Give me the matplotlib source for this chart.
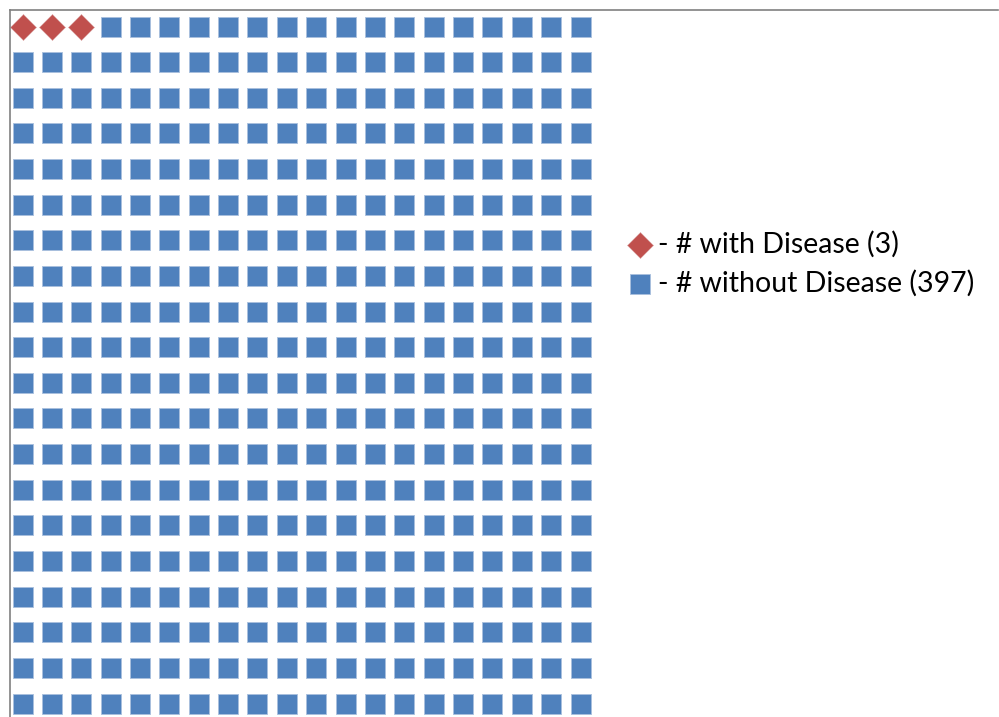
import matplotlib.pyplot as plt
from matplotlib.lines import Line2D
import numpy as np

# waffle counts
n_with = 3
n_without = 397
n_cols = 20
n_rows = 20
labels = ['- # with Disease (3)', '- # without Disease (397)']
colors = ['#C0504D', '#4F81BD']

idx = np.arange(n_with + n_without)
col = idx % n_cols
row = idx // n_cols

fig = plt.figure(figsize=(9.99, 7.17), dpi=100)
ax = fig.add_axes([0, 0, 1, 1])
ax.set_axis_off()

# place grid: col 0 at ~22.5px, col 19 at ~580.5px; row 0 at ~26.5px, row 19 at ~703.5px
dx = (580.5 - 22.5) / (n_cols - 1)
dy = (703.5 - 26.5) / (n_rows - 1)
x0 = -22.5 / dx
y0 = -26.5 / dy
ax.set_xlim(x0, x0 + 999 / dx)
ax.set_ylim(y0 + 717 / dy, y0)

w = idx < n_with
h1 = ax.scatter(col[w], row[w], marker='D', s=175, color=colors[0],
                edgecolors='#D9A5A4', linewidths=0.4, zorder=3)
h2 = ax.scatter(col[~w], row[~w], marker='s', s=190, color=colors[1],
                edgecolors='#A9C0DE', linewidths=0.6, zorder=3)

leg = fig.legend([h1, h2], labels, loc='center left',
                 bbox_to_anchor=(612 / 999, 1 - 263.5 / 717),
                 frameon=False, borderpad=0,
                 handletextpad=0.12, labelspacing=0.42, handlelength=1.0,
                 prop={'family': ['Lato', 'DejaVu Sans'], 'size': 20.5})

# plot-area border (only top and left visible)
fig.add_artist(Line2D([9.5 / 999, 998 / 999], [1 - 9.5 / 717, 1 - 9.5 / 717],
                      color='#808080', lw=1.2, transform=fig.transFigure))
fig.add_artist(Line2D([9.5 / 999, 9.5 / 999], [1 - 9.5 / 717, 0],
                      color='#808080', lw=1.2, transform=fig.transFigure))

fig.savefig('out.png', dpi=100)
